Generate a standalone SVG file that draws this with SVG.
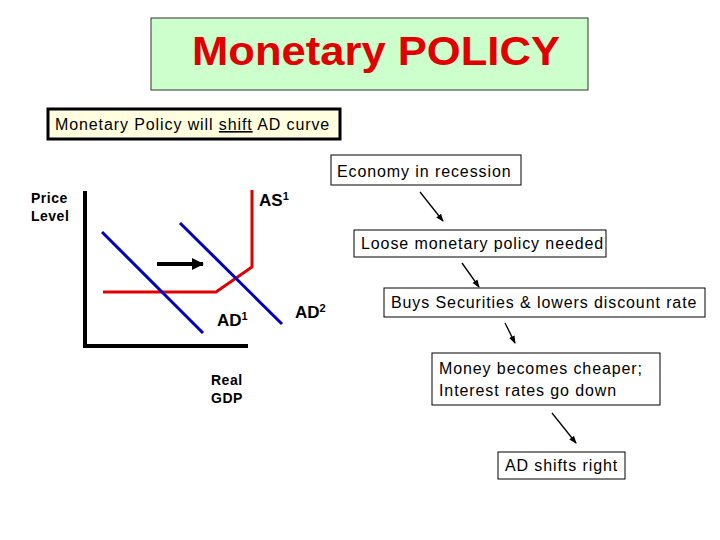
<svg xmlns="http://www.w3.org/2000/svg" width="720" height="540" viewBox="0 0 720 540">
<style>
text{font-family:"Liberation Sans",Arial,sans-serif;fill:#000}
.box{fill:#fff;stroke:#000;stroke-width:1}
.ft{font-size:16px;letter-spacing:0.9px}
.lbl{font-size:14px;font-weight:bold;letter-spacing:0.5px}
.cl{font-size:17px;font-weight:bold}
.con{stroke:#000;stroke-width:1.3;fill:none;marker-end:url(#ah)}
</style>
<defs>
<marker id="ah" markerWidth="8" markerHeight="8" refX="7" refY="4" orient="auto" markerUnits="userSpaceOnUse"><path d="M0,1 L8,4 L0,7 Z" fill="#000"/></marker>
<marker id="bh" markerWidth="12" markerHeight="12" refX="11" refY="6" orient="auto" markerUnits="userSpaceOnUse"><path d="M0,0 L12,6 L0,12 Z" fill="#000"/></marker>
</defs>
<rect width="720" height="540" fill="#fff"/>
<g id="title"><rect x="151" y="18" width="437" height="72" fill="#ccffcc" stroke="#333" stroke-width="1"/>
<text x="192" y="65" textLength="368" lengthAdjust="spacingAndGlyphs" style="font-size:40px;font-weight:bold;fill:#e00000">Monetary POLICY</text></g>
<g id="subtitle"><rect x="48" y="109" width="292" height="30" fill="#ffffe0" stroke="#000" stroke-width="3"/>
<text x="55" y="130" class="ft">Monetary Policy will <tspan text-decoration="underline">shift</tspan> AD curve</text></g>
<g id="graph">
<text x="31" y="203" class="lbl">Price</text><text x="31" y="221" class="lbl">Level</text>
<path d="M85,191 V346 H248" stroke="#000" stroke-width="4" fill="none"/>
<polyline points="103,292 216,292 252,267 252,190" stroke="#e00000" stroke-width="3" fill="none"/>
<line x1="102" y1="232" x2="203" y2="333" stroke="#0000c0" stroke-width="3"/>
<line x1="180" y1="223" x2="282" y2="324" stroke="#0000c0" stroke-width="3"/>
<line x1="157" y1="264" x2="203" y2="264" stroke="#000" stroke-width="4" marker-end="url(#bh)"/>
<text x="259" y="206" class="cl">AS<tspan font-size="11" dy="-6">1</tspan></text>
<text x="217" y="326" class="cl">AD<tspan font-size="11" dy="-6">1</tspan></text>
<text x="295" y="318" class="cl">AD<tspan font-size="11" dy="-6">2</tspan></text>
<text x="211" y="385" class="lbl">Real</text><text x="211" y="403" class="lbl">GDP</text>
</g>
<g id="n1"><rect x="331" y="155" width="190" height="30" class="box"/><text x="337" y="177" class="ft">Economy in recession</text></g>
<g id="n2"><rect x="354" y="230" width="252" height="27" class="box"/><text x="361" y="249" class="ft">Loose monetary policy needed</text></g>
<g id="n3"><rect x="384" y="288" width="321" height="29" class="box"/><text x="391" y="308" class="ft">Buys Securities &amp; lowers discount rate</text></g>
<g id="n4"><rect x="432" y="353" width="228" height="52" class="box"/><text x="439" y="374" class="ft">Money becomes cheaper;</text><text x="439" y="396" class="ft">Interest rates go down</text></g>
<g id="n5"><rect x="498" y="452" width="127" height="27" class="box"/><text x="505" y="471" class="ft">AD shifts right</text></g>
<g id="connectors">
<line x1="420" y1="192" x2="443" y2="221" class="con"/>
<line x1="462" y1="263" x2="479" y2="287" class="con"/>
<line x1="505" y1="323" x2="515" y2="343" class="con"/>
<line x1="552" y1="413" x2="576" y2="443" class="con"/>
</g>
</svg>
